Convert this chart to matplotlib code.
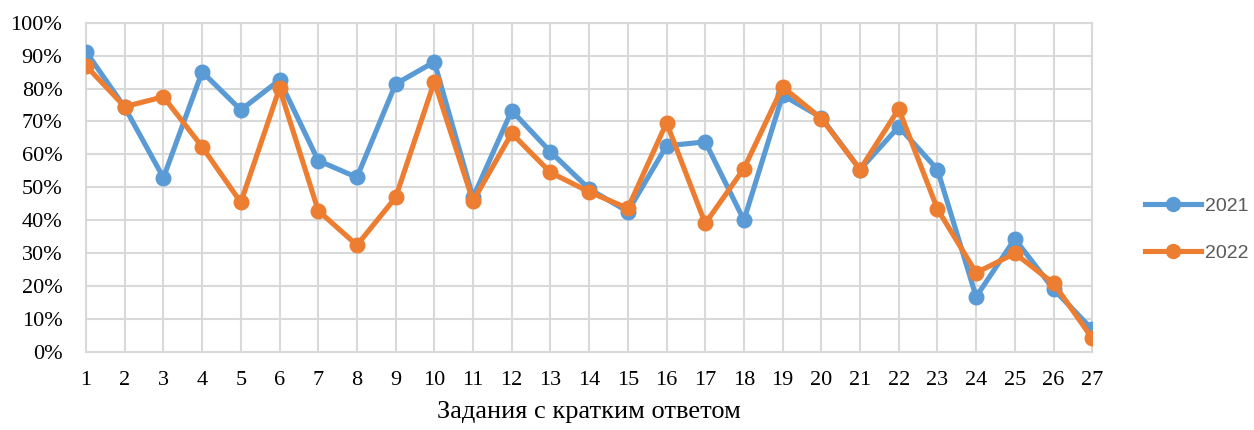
import matplotlib
matplotlib.use("Agg")
import matplotlib.pyplot as plt
from matplotlib.ticker import PercentFormatter

tasks = list(range(1, 28))
y2021 = [91.2, 74.3, 52.9, 85.1, 73.5, 82.6, 58.1, 53.0, 81.4, 88.1,
         46.9, 73.3, 60.8, 49.5, 42.6, 62.6, 63.8, 40.0, 78.0, 71.2,
         55.4, 68.4, 55.4, 16.7, 34.3, 19.0, 6.8]
y2022 = [86.9, 74.5, 77.5, 62.3, 45.4, 80.1, 42.9, 32.4, 46.9, 82.1,
         45.8, 66.4, 54.5, 48.6, 43.6, 69.6, 39.0, 55.7, 80.5, 70.9,
         55.4, 73.8, 43.4, 24.0, 29.9, 20.8, 4.1]
labels = ["2021", "2022"]
xlabel = "Задания с кратким ответом"

plt.rcParams['font.family'] = ['Liberation Serif', 'DejaVu Serif']

fig = plt.figure(figsize=(12.54, 4.30), dpi=100)
ax = fig.add_axes([0.0686, 0.182, 0.8024, 0.765])

ax.plot(tasks, y2021, '-o', color='#5B9BD5', lw=3.7, ms=10.5, label=labels[0], zorder=3)
ax.plot(tasks, y2022, '-o', color='#ED7D31', lw=3.7, ms=10.5, label=labels[1], zorder=4)

ax.set_xlim(1, 27)
ax.set_ylim(0, 100)
ax.set_xticks(tasks)
ax.set_yticks(range(0, 101, 10))
ax.yaxis.set_major_formatter(PercentFormatter(decimals=0))
ax.grid(True, color='#D9D9D9', lw=1.5)
ax.set_axisbelow(True)
for s in ax.spines.values():
    s.set_color('#D9D9D9')
    s.set_linewidth(1.5)
ax.tick_params(length=0, labelsize=16, colors='black')
ax.tick_params(axis='x', pad=14)
ax.tick_params(axis='y', pad=17)
ax.set_xlabel(xlabel, fontsize=19, labelpad=8)

leg = fig.legend(loc='center left', bbox_to_anchor=(0.913, 0.466), frameon=False,
                 prop={'family': 'Liberation Sans', 'size': 14},
                 handlelength=2.9, labelspacing=1.5, handletextpad=0.2,
                 borderaxespad=0, borderpad=0)
for t in leg.get_texts():
    t.set_color('#595959')
for h in leg.legend_handles:
    h.set_markersize(10)
    h.set_linewidth(3.7)

fig.savefig("out.png", dpi=100)
